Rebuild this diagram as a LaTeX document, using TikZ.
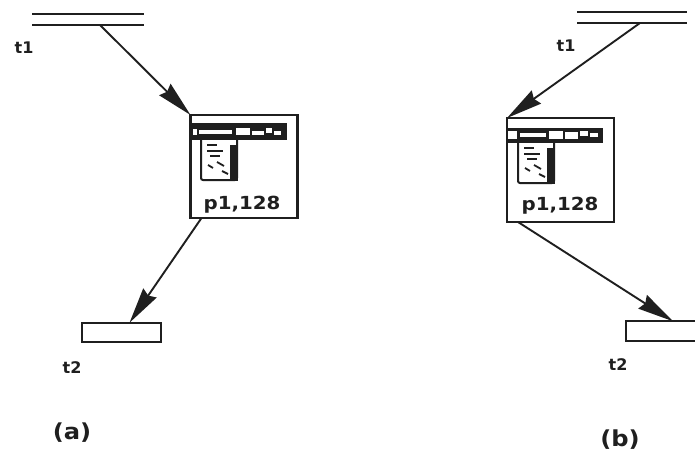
\documentclass[tikz,border=0pt]{standalone}
\usepackage{fontspec}
\setmainfont{DejaVu Sans}
\newfontfamily\widefont[FakeStretch=1.1]{DejaVu Sans}
\usetikzlibrary{arrows.meta,calc}
\definecolor{ink}{gray}{0.12}
\tikzset{
  x=1pt,y=-1pt,
  every node/.style={inner sep=0pt,outer sep=0pt,text=ink},
  placebox/.style={draw=ink,line width=2.5pt,rectangle,minimum width=107,minimum height=#1},
  barbox/.style={draw=ink,line width=2.4pt,rectangle,minimum width=79,minimum height=19.5},
  dbl/.style={rectangle,minimum width=#1,minimum height=11},
  dblline/.style={draw=ink,line width=2.6pt},
  conn/.style={draw=ink,line width=1.9pt,-{Stealth[length=36pt,width=16pt,inset=3pt]},shorten >=0pt},
  lbl/.style={font=\bfseries\fontsize{16}{18}\selectfont},
  captext/.style={font=\widefont\bfseries\fontsize{22}{24}\selectfont},
  tok/.style={font=\widefont\bfseries\fontsize{18}{20}\selectfont},
  scrib/.style={draw=ink,line width=1.8pt},
  bandfill/.style={fill=ink,draw=none},
  pics/winicon/.style={code={
    \fill[white] (0,0) rectangle (36,40);
    \draw[ink,line width=2pt,rounded corners=2pt] (0,0) -- (0,40) -- (36,40) -- (36,0);
    \fill[ink] (29,5) rectangle (37,41);
    \draw[scrib] (6,5) -- (16,5) (6,11) -- (22,11) (9,16) -- (19,16);
    \draw[scrib] (7,25) -- (12,28) (16,22) -- (23,26) (21,31) -- (27,34);
  }}
}
\begin{document}
\begin{tikzpicture}
\useasboundingbox (0,0) rectangle (695,457);
\fill[white] (0,0) rectangle (695,457);

% --- (a) ---
\node[dbl=112] (ta1) at (88,19.5) {};
\draw[dblline] (ta1.north west) -- (ta1.north east);
\draw[dblline] (ta1.south west) -- (ta1.south east);
\node[lbl] (ta1l) at (24,48) {t1};

\node[placebox=103] (pa) at (244,166.5) {};
\fill[bandfill] (192,123) rectangle (287,140);
\fill[white] (199,130) rectangle (232,134);
\fill[white] (193,129) rectangle (197,135);
\fill[white] (236,128) rectangle (250,135);
\fill[white] (252,131) rectangle (264,135);
\fill[white] (266,128) rectangle (272,133);
\fill[white] (274,131) rectangle (281,135);
\pic at (201,140) {winicon};
\node[tok] (pal) at (242,205) {p1,128};

\node[barbox] (ba) at (121.5,332.5) {};
\node[lbl] (bal) at (72,368) {t2};
\node[captext] (capa) at (72,433) {(a)};

\draw[conn] ($(ta1.south)+(12,0)$) -- (pa.north west);
\draw[conn] ($(pa.south west)+(11,0)$) -- ($(ba.north)+(8,0)$);

% --- (b) ---
\node[dbl=110] (tb1) at (632,17.5) {};
\draw[dblline] (tb1.north west) -- (tb1.north east);
\draw[dblline] (tb1.south west) -- (tb1.south east);
\node[lbl] (tb1l) at (566,46) {t1};

\node[placebox=104] (pb) at (560.5,170) {};
\fill[bandfill] (508,128) rectangle (603,143);
\fill[white] (508,131) rectangle (517,139);
\fill[white] (520,133) rectangle (546,137);
\fill[white] (549,131) rectangle (563,139);
\fill[white] (565,132) rectangle (578,139);
\fill[white] (580,131) rectangle (588,136);
\fill[white] (590,133) rectangle (598,137);
\pic at (518,143) {winicon};
\node[tok] (pbl) at (560,206) {p1,128};

\node[barbox,anchor=west] (bb) at (626,331) {};
\node[lbl] (bbl) at (618,365) {t2};
\node[captext] (capb) at (620,440) {(b)};

\draw[conn] ($(tb1.south)+(8,0)$) -- (pb.north west);
\draw[conn] ($(pb.south west)+(11,0)$) -- ($(bb.north west)+(47,0)$);
\end{tikzpicture}
\end{document}
